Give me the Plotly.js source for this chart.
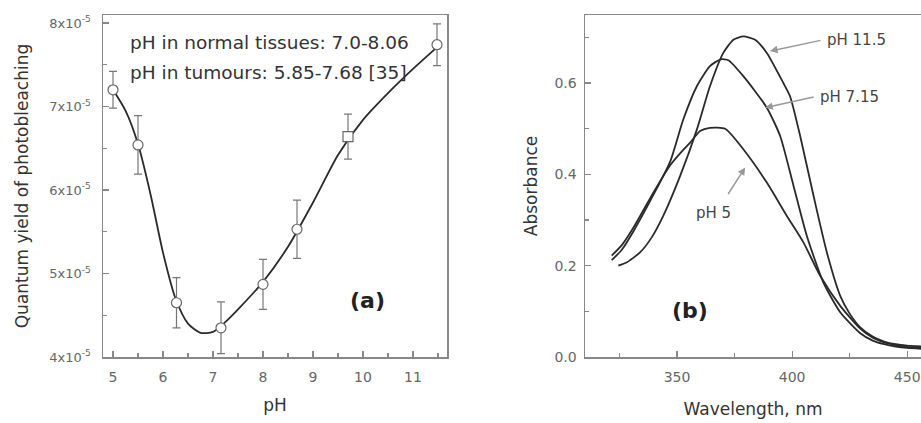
<!DOCTYPE html>
<html>
<head>
<meta charset="utf-8">
<script src="https://cdn.plot.ly/plotly-3.0.1.min.js"></script>
<style>html,body{margin:0;padding:0;background:#fff;}#chart{width:921px;height:423px;}</style>
</head>
<body>
<div id="chart"></div>
<script>
// Panel (a): quantum yield of photobleaching vs pH
const phPoints = [5.0, 5.5, 6.27, 7.16, 8.0, 8.68, 9.7, 11.48];
const yieldPoints = [7.2e-5, 6.54e-5, 4.65e-5, 4.35e-5, 4.87e-5, 5.53e-5, 6.64e-5, 7.74e-5];
const yieldErr = [0.22e-5, 0.35e-5, 0.3e-5, 0.31e-5, 0.3e-5, 0.35e-5, 0.27e-5, 0.25e-5];
const pointSymbols = ['circle', 'circle', 'circle', 'circle', 'circle', 'circle', 'square', 'circle'];

const phFit = [5.0, 5.25, 5.5, 5.75, 6.0, 6.25, 6.5, 6.75, 7.0, 7.25, 7.5, 8.0, 8.5, 9.0, 9.5, 10.0, 10.5, 11.0, 11.5];
const yieldFit = [7.2e-5, 6.95e-5, 6.55e-5, 5.95e-5, 5.25e-5, 4.7e-5, 4.4e-5, 4.29e-5, 4.3e-5, 4.42e-5, 4.57e-5, 4.9e-5, 5.32e-5, 5.85e-5, 6.42e-5, 6.84e-5, 7.16e-5, 7.45e-5, 7.72e-5];

const yTickVals = [4e-5, 5e-5, 6e-5, 7e-5, 8e-5];
const yTickText = ['4x10<sup>-5</sup>', '5x10<sup>-5</sup>', '6x10<sup>-5</sup>', '7x10<sup>-5</sup>', '8x10<sup>-5</sup>'];

// Panel (b): absorbance spectra
const wl115 = [324.5, 328, 333.9, 339, 344.0, 351.3, 358.6, 364.3, 370.1, 374.5, 378.8, 383.9, 389.0, 396.2, 399.1, 403.5, 409.3, 415.1, 420.9, 425, 429.6, 435, 440, 445, 450, 456];
const abs115 = [0.200, 0.207, 0.229, 0.262, 0.309, 0.396, 0.498, 0.593, 0.666, 0.695, 0.702, 0.695, 0.666, 0.600, 0.571, 0.484, 0.353, 0.229, 0.134, 0.095, 0.065, 0.045, 0.034, 0.028, 0.025, 0.023];

const wl715 = [321.6, 326, 331, 339.7, 347, 352.7, 358.6, 364.3, 369, 372.3, 378.8, 389, 394.8, 400.6, 406.4, 413.6, 420.9, 429.6, 435, 440, 445, 450, 456];
const abs715 = [0.212, 0.235, 0.275, 0.355, 0.428, 0.520, 0.593, 0.637, 0.652, 0.650, 0.615, 0.546, 0.484, 0.375, 0.265, 0.163, 0.098, 0.052, 0.036, 0.028, 0.023, 0.020, 0.018];

const wl5 = [321.6, 326, 331, 339.7, 347, 352, 355.6, 360, 364.3, 370.9, 378.8, 389, 397.7, 404.9, 412.2, 420.9, 429.6, 435, 440, 445, 450, 456];
const abs5 = [0.222, 0.245, 0.283, 0.360, 0.420, 0.450, 0.469, 0.495, 0.502, 0.500, 0.455, 0.382, 0.309, 0.251, 0.178, 0.112, 0.062, 0.042, 0.032, 0.026, 0.022, 0.020];

const FONT = 'DejaVu Sans, Arial, sans-serif';
const lineCol = '#2a2a2a';
const axisCol = '#888';

const traces = [
  { x: phFit, y: yieldFit, xaxis: 'x', yaxis: 'y', mode: 'lines', line: { color: lineCol, width: 1.8, shape: 'spline', smoothing: 0.7 }, hoverinfo: 'skip' },
  { x: phPoints, y: yieldPoints, xaxis: 'x', yaxis: 'y', mode: 'markers',
    marker: { symbol: pointSymbols, size: 10, color: '#fff', line: { color: '#666', width: 1.2 } },
    error_y: { type: 'data', array: yieldErr, visible: true, color: '#777', thickness: 1.2, width: 4 } },
  { x: wl115, y: abs115, xaxis: 'x2', yaxis: 'y2', mode: 'lines', line: { color: lineCol, width: 1.8, shape: 'spline', smoothing: 0.6 } },
  { x: wl715, y: abs715, xaxis: 'x2', yaxis: 'y2', mode: 'lines', line: { color: lineCol, width: 1.8, shape: 'spline', smoothing: 0.6 } },
  { x: wl5, y: abs5, xaxis: 'x2', yaxis: 'y2', mode: 'lines', line: { color: lineCol, width: 1.8, shape: 'spline', smoothing: 0.6 } }
];

const axBase = {
  showline: true, linecolor: axisCol, linewidth: 1.5, showgrid: false, zeroline: false,
  ticks: 'inside', ticklen: 6, tickwidth: 1.2, tickcolor: axisCol,
  tickfont: { family: FONT, size: 14, color: '#666' }
};
const titleFont = { family: FONT, size: 17, color: '#333' };

const layout = {
  width: 921, height: 423, autosize: false,
  margin: { l: 0, r: 0, t: 0, b: 0 },
  paper_bgcolor: '#fff', plot_bgcolor: '#fff',
  showlegend: false,
  font: { family: FONT, color: '#333' },
  xaxis: Object.assign({}, axBase, {
    domain: [103 / 921, 447 / 921], anchor: 'y', range: [4.8, 11.68], mirror: true,
    tickvals: [5, 6, 7, 8, 9, 10, 11], ticklabelstandoff: 7,
    minor: { dtick: 0.5, ticks: 'inside', ticklen: 4, tickcolor: axisCol, tick0: 5 },
    title: { text: 'pH', font: titleFont, standoff: 15 }
  }),
  yaxis: Object.assign({}, axBase, {
    domain: [66 / 423, 408 / 423], anchor: 'x', range: [4e-5, 8.096e-5], mirror: true,
    tickvals: yTickVals, ticktext: yTickText, ticklabelstandoff: 8,
    tickfont: { family: FONT, size: 13, color: '#666' },
    minor: { dtick: 0.5e-5, tick0: 4e-5, ticks: 'inside', ticklen: 4, tickcolor: axisCol },
    title: { text: 'Quantum yield of photobleaching', font: titleFont, standoff: 16 }
  }),
  xaxis2: Object.assign({}, axBase, {
    domain: [585 / 921, 1], anchor: 'y2', range: [310, 456], mirror: true,
    tickvals: [350, 400, 450], ticklabelstandoff: 7,
    minor: { dtick: 25, tick0: 325, ticks: 'inside', ticklen: 4, tickcolor: axisCol },
    title: { text: 'Wavelength, nm', font: titleFont, standoff: 19 }
  }),
  yaxis2: Object.assign({}, axBase, {
    domain: [66 / 423, 408 / 423], anchor: 'x2', range: [0, 0.749], mirror: false,
    tickvals: [0, 0.2, 0.4, 0.6], ticktext: ['0.0', '0.2', '0.4', '0.6'], ticklabelstandoff: 4,
    minor: { dtick: 0.1, tick0: 0, ticks: 'inside', ticklen: 4, tickcolor: axisCol },
    title: { text: 'Absorbance', font: titleFont, standoff: 12 }
  }),
  annotations: [
    { xref: 'paper', yref: 'paper', x: 128 / 921, y: 1 - 42 / 423, xanchor: 'left', yanchor: 'middle', showarrow: false,
      text: 'pH in normal tissues: 7.0-8.06', font: { family: FONT, size: 18.5, color: '#333' } },
    { xref: 'paper', yref: 'paper', x: 128 / 921, y: 1 - 72 / 423, xanchor: 'left', yanchor: 'middle', showarrow: false,
      text: 'pH in tumours: 5.85-7.68 [35]', font: { family: FONT, size: 18.5, color: '#333' } },
    { xref: 'paper', yref: 'paper', x: 367 / 921, y: 1 - 300 / 423, xanchor: 'center', yanchor: 'middle', showarrow: false,
      text: '<b>(a)</b>', font: { family: FONT, size: 22, color: '#222' } },
    { xref: 'paper', yref: 'paper', x: 690 / 921, y: 1 - 310 / 423, xanchor: 'center', yanchor: 'middle', showarrow: false,
      text: '<b>(b)</b>', font: { family: FONT, size: 22, color: '#222' } },
    // arrows to the curves
    { xref: 'x2', yref: 'y2', x: 390.4, y: 0.670, ax: 52, ay: -11, text: '', showarrow: true,
      arrowhead: 2, arrowsize: 1, arrowwidth: 1.5, arrowcolor: '#999', standoff: 0 },
    { xref: 'x2', yref: 'y2', x: 388.3, y: 0.546, ax: 50, ay: -11, text: '', showarrow: true,
      arrowhead: 2, arrowsize: 1, arrowwidth: 1.5, arrowcolor: '#999', standoff: 0 },
    { xref: 'x2', yref: 'y2', x: 379.6, y: 0.415, ax: -18, ay: 28, text: '', showarrow: true,
      arrowhead: 2, arrowsize: 1, arrowwidth: 1.5, arrowcolor: '#999', standoff: 0 },
    { xref: 'paper', yref: 'paper', x: 825 / 921, y: 1 - 40 / 423, xanchor: 'left', yanchor: 'middle', showarrow: false,
      text: 'pH 11.5', font: { family: FONT, size: 15, color: '#444' } },
    { xref: 'paper', yref: 'paper', x: 818 / 921, y: 1 - 97 / 423, xanchor: 'left', yanchor: 'middle', showarrow: false,
      text: 'pH 7.15', font: { family: FONT, size: 15, color: '#444' } },
    { xref: 'paper', yref: 'paper', x: 713 / 921, y: 1 - 213 / 423, xanchor: 'center', yanchor: 'middle', showarrow: false,
      text: 'pH 5', font: { family: FONT, size: 15, color: '#444' } }
  ]
};

Plotly.newPlot('chart', traces, layout, { displayModeBar: false, staticPlot: true });
</script>
</body>
</html>
